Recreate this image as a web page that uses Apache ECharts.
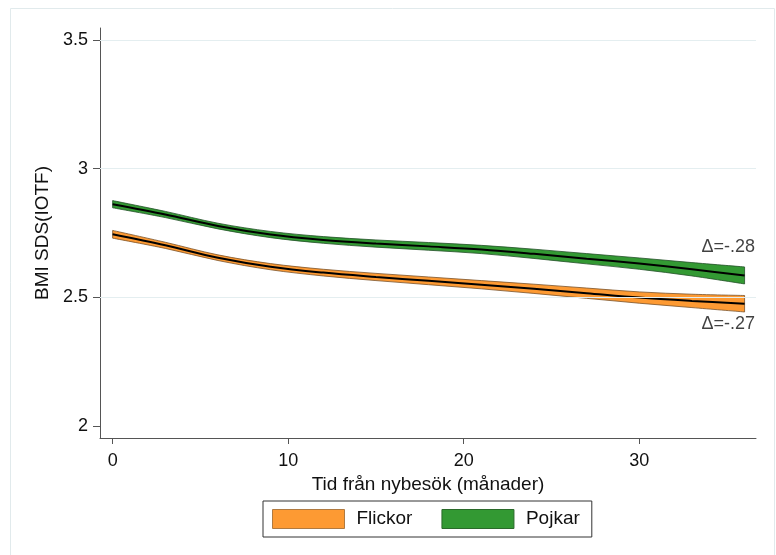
<!DOCTYPE html>
<html>
<head>
<meta charset="utf-8">
<script src="https://cdn.jsdelivr.net/npm/echarts@6/dist/echarts.min.js"></script>
<style>
  html, body { margin: 0; padding: 0; background: #ffffff; }
  #chart { width: 776px; height: 555px; }
</style>
</head>
<body>
<div id="chart"></div>
<script>
// Months since first visit
const months = [0, 3, 6, 9, 12, 15, 18, 21, 24, 27, 30, 33, 36];

// Girls: fitted BMI SDS with confidence band
const flickorMean  = [2.745, 2.702, 2.654, 2.619, 2.596, 2.579, 2.564, 2.549, 2.533, 2.516, 2.499, 2.486, 2.475];
const flickorLower = [2.730, 2.690, 2.643, 2.607, 2.583, 2.565, 2.549, 2.533, 2.515, 2.496, 2.477, 2.460, 2.443];
const flickorUpper = [2.760, 2.714, 2.665, 2.631, 2.609, 2.593, 2.579, 2.565, 2.551, 2.536, 2.521, 2.512, 2.507];

// Boys: fitted BMI SDS with confidence band
const pojkarMean  = [2.862, 2.822, 2.777, 2.744, 2.723, 2.709, 2.698, 2.686, 2.669, 2.650, 2.631, 2.609, 2.585];
const pojkarLower = [2.848, 2.810, 2.766, 2.732, 2.710, 2.695, 2.683, 2.670, 2.651, 2.630, 2.609, 2.583, 2.552];
const pojkarUpper = [2.876, 2.834, 2.788, 2.756, 2.736, 2.723, 2.713, 2.702, 2.687, 2.670, 2.653, 2.635, 2.618];

// Axis ticks and reference lines
const xTicks = [0, 10, 20, 30];
const yTicks = [2, 2.5, 3, 3.5];
const yGridValues = [2.5, 3, 3.5];

// Change over the period, annotated at the end of each curve
const deltaPojkar = 'Δ=-.28';
const deltaFlickor = 'Δ=-.27';

const FONT = '"Liberation Sans", Arial, Helvetica, sans-serif';
const ORANGE = '#fd9a33';
const ORANGE_EDGE = '#7a5228';
const GREEN = '#339933';
const GREEN_EDGE = '#25502a';

const pairs = (ys) => months.map((m, i) => [m, ys[i]]);

// Catmull-Rom curve through screen points, as bezier path commands
function curveCommands(pts, moveFirst) {
  let d = (moveFirst ? 'M' : 'L') + pts[0][0].toFixed(2) + ',' + pts[0][1].toFixed(2);
  for (let i = 0; i < pts.length - 1; i++) {
    const p0 = pts[Math.max(i - 1, 0)];
    const p1 = pts[i];
    const p2 = pts[i + 1];
    const p3 = pts[Math.min(i + 2, pts.length - 1)];
    const c1x = p1[0] + (p2[0] - p0[0]) / 6;
    const c1y = p1[1] + (p2[1] - p0[1]) / 6;
    const c2x = p2[0] - (p3[0] - p1[0]) / 6;
    const c2y = p2[1] - (p3[1] - p1[1]) / 6;
    d += 'C' + c1x.toFixed(2) + ',' + c1y.toFixed(2) + ' ' + c2x.toFixed(2) + ',' + c2y.toFixed(2) + ' ' + p2[0].toFixed(2) + ',' + p2[1].toFixed(2);
  }
  return d;
}

function bandSeries(name, lower, upper, fill, edge) {
  return {
    name: name,
    type: 'custom',
    coordinateSystem: 'cartesian2d',
    silent: true,
    itemStyle: { color: fill },
    data: [[months[0], upper[0]]],
    renderItem: function (params, api) {
      const up = months.map((m, i) => api.coord([m, upper[i]]));
      const lo = months.map((m, i) => api.coord([m, lower[i]])).reverse();
      const d = curveCommands(up, true) + curveCommands(lo, false) + 'Z';
      return {
        type: 'path',
        shape: { pathData: d },
        style: { fill: fill, stroke: edge, lineWidth: 0.8 }
      };
    },
    z: 2
  };
}

function meanSeries(name, mean) {
  return {
    name: name + '_mean',
    type: 'line',
    data: pairs(mean),
    smooth: 0.35,
    showSymbol: false,
    symbol: 'none',
    silent: true,
    lineStyle: { color: '#000000', width: 2 },
    z: 4
  };
}

const last = months.length - 1;

const option = {
  backgroundColor: '#ffffff',
  animation: false,
  textStyle: { fontFamily: FONT },
  graphic: [
    {
      type: 'rect',
      shape: { x: 10.5, y: 8.5, width: 764, height: 560 },
      style: { fill: 'none', stroke: '#e1eaec', lineWidth: 1 },
      z: -10
    }
  ],
  grid: { left: 100, right: 20, top: 28, bottom: 117 },
  legend: {
    data: [
      { name: 'Flickor', itemStyle: { color: ORANGE, borderColor: '#b07a40', borderWidth: 1 } },
      { name: 'Pojkar', itemStyle: { color: GREEN, borderColor: '#2a6a2a', borderWidth: 1 } }
    ],
    left: 263,
    top: 501,
    orient: 'horizontal',
    icon: 'rect',
    itemWidth: 72,
    itemHeight: 19,
    itemGap: 29,
    padding: [8, 12, 8, 9],
    borderColor: '#333333',
    borderWidth: 1,
    selectedMode: false,
    textStyle: { fontFamily: FONT, fontSize: 19, color: '#111111', padding: [0, 0, 0, 7] }
  },
  xAxis: {
    type: 'value',
    min: -0.72,
    max: 36.65,
    name: 'Tid från nybesök (månader)',
    nameLocation: 'middle',
    nameGap: 32,
    nameTextStyle: { fontFamily: FONT, fontSize: 19, color: '#111111' },
    axisLine: { onZero: false, lineStyle: { color: '#555555', width: 1 } },
    axisTick: { show: true, customValues: xTicks, length: 6, lineStyle: { color: '#555555' } },
    axisLabel: { customValues: xTicks, margin: 14, fontFamily: FONT, fontSize: 18, color: '#111111' },
    splitLine: { show: false }
  },
  yAxis: {
    type: 'value',
    min: 1.953,
    max: 3.547,
    name: 'BMI SDS(IOTF)',
    nameLocation: 'middle',
    nameGap: 47,
    nameRotate: 90,
    nameTextStyle: { fontFamily: FONT, fontSize: 19, color: '#111111' },
    axisLine: { show: true, onZero: false, lineStyle: { color: '#555555', width: 1 } },
    axisTick: { show: true, customValues: yTicks, length: 7, lineStyle: { color: '#555555' } },
    axisLabel: { customValues: yTicks, margin: 12, fontFamily: FONT, fontSize: 18, color: '#111111' },
    splitLine: { show: false }
  },
  series: [
    // light reference lines across the plot
    {
      name: 'grid',
      type: 'line',
      data: [],
      silent: true,
      markLine: {
        silent: true,
        symbol: ['none', 'none'],
        label: { show: false },
        lineStyle: { color: '#e4eef0', width: 1, type: 'solid' },
        data: yGridValues.map(v => ({ yAxis: v }))
      },
      z: 0
    },
    bandSeries('Pojkar', pojkarLower, pojkarUpper, GREEN, GREEN_EDGE),
    bandSeries('Flickor', flickorLower, flickorUpper, ORANGE, ORANGE_EDGE),
    meanSeries('Pojkar', pojkarMean),
    meanSeries('Flickor', flickorMean),
    // change annotations at the end of each band
    {
      name: 'delta',
      type: 'scatter',
      silent: true,
      symbolSize: 1,
      itemStyle: { color: 'rgba(0,0,0,0)' },
      data: [
        {
          value: [months[last], pojkarUpper[last]],
          label: { show: true, formatter: deltaPojkar, position: [11, -19] }
        },
        {
          value: [months[last], flickorLower[last]],
          label: { show: true, formatter: deltaFlickor, position: [11, 13] }
        }
      ],
      label: {
        fontFamily: FONT,
        fontSize: 18,
        color: '#111111',
        align: 'right',
        verticalAlign: 'middle'
      },
      z: 5
    }
  ]
};

const chart = echarts.init(document.getElementById('chart'), null, { renderer: 'canvas' });
chart.setOption(option);
</script>
</body>
</html>
